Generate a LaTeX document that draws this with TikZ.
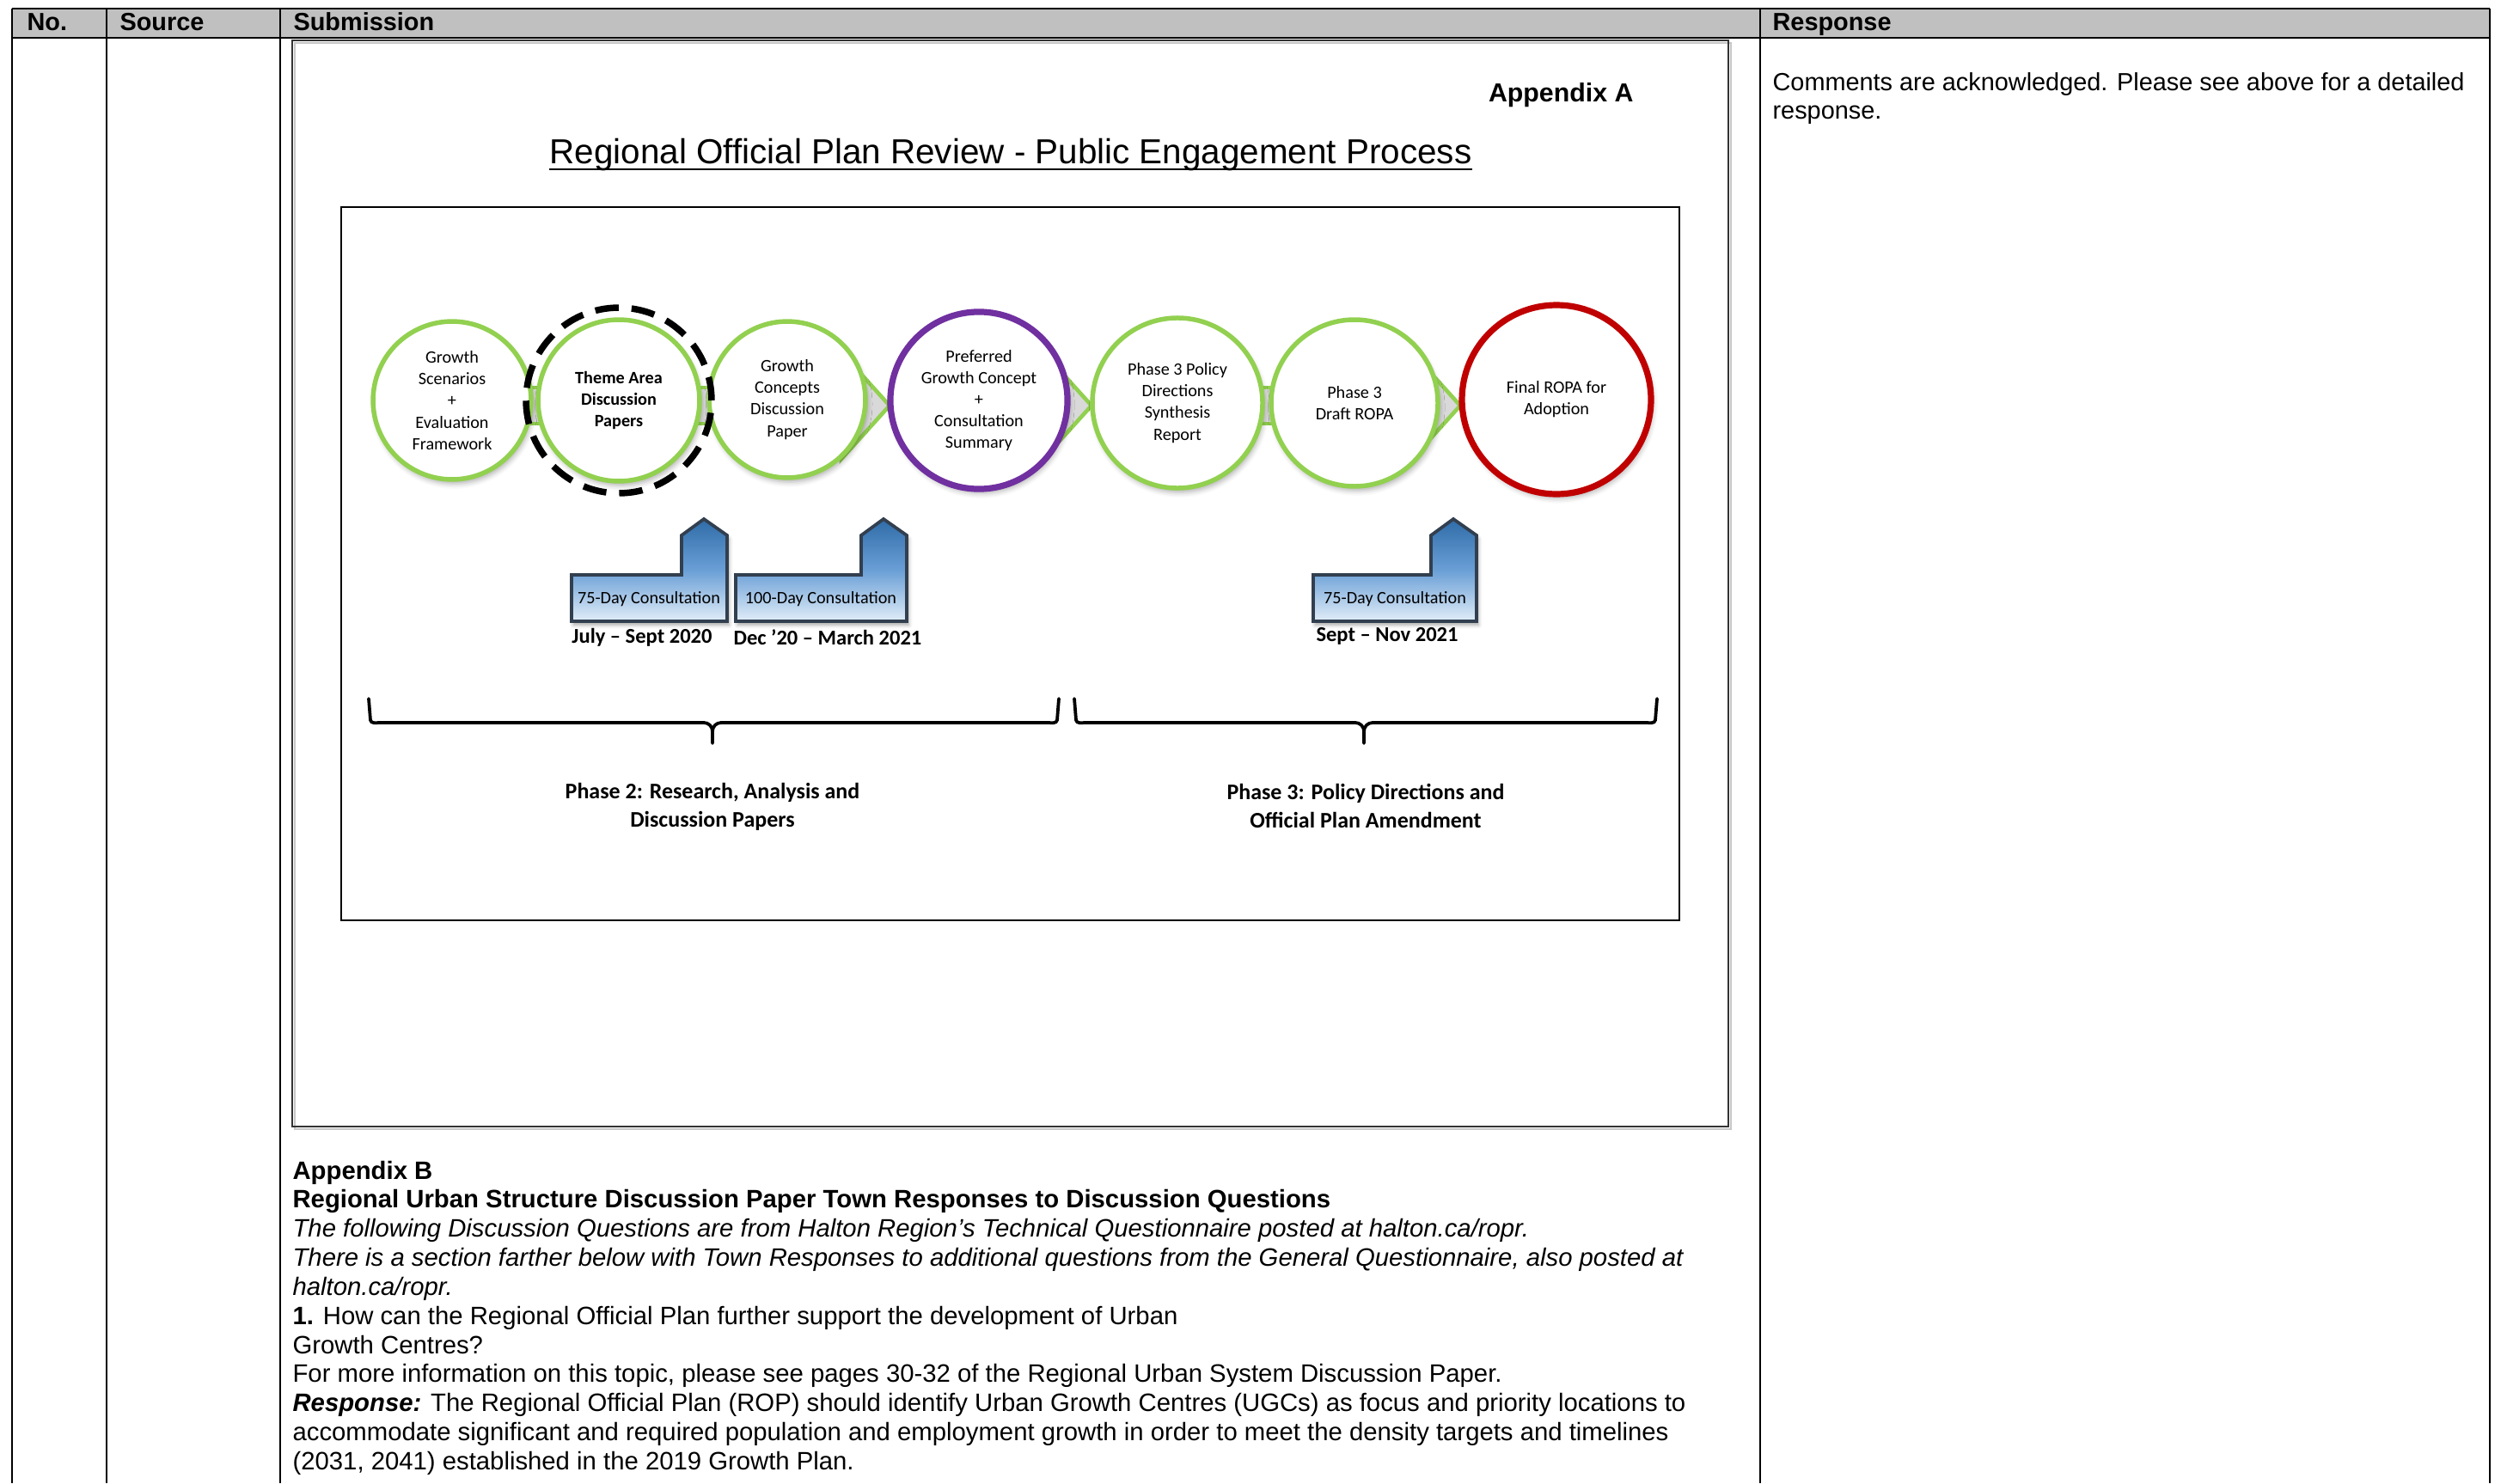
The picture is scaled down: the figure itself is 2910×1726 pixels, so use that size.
\documentclass[tikz,border=0pt]{standalone}
\usepackage{fontspec}
\setmainfont{Liberation Sans}
\newfontfamily\smartfont{Carlito}
\usetikzlibrary{calc,shadows.blur}

\definecolor{headgray}{HTML}{C0C0C0}
\definecolor{stagegreen}{HTML}{92D050}
\definecolor{stagepurple}{HTML}{7030A0}
\definecolor{stagered}{HTML}{C00000}
\definecolor{bandgray}{HTML}{D9D9D9}
\definecolor{consultdark}{HTML}{2F6CA8}
\definecolor{consultmid}{HTML}{6A9FD6}
\definecolor{consultlight}{HTML}{E1EDF8}
\definecolor{consultedge}{HTML}{323F4F}

\tikzset{
  rule/.style={line width=0.75pt},
  head/.style={anchor=base west, inner sep=0pt, font=\bfseries\fontsize{10}{12}\selectfont},
  body/.style={anchor=base west, inner sep=0pt, font=\fontsize{10.15}{12}\selectfont},
  stage/.style={circle, draw=stagegreen, line width=1.9pt, fill=white,
    inner sep=0pt, align=center, font=\smartfont\fontsize{7}{8.7}\selectfont,
    blur shadow={shadow xshift=0.8pt, shadow yshift=-1.8pt,
      shadow blur radius=2pt, shadow opacity=30}},
  ring/.style={circle, draw=black, line width=2.6pt, dash pattern=on 9.5pt off 5.2pt,
    inner sep=0pt, minimum size=74.8pt},
  band/.style={draw=stagegreen, line width=1.4pt, double=bandgray, double distance=13pt},
  chevron/.style={draw=stagegreen, line width=1.6pt, fill=bandgray, line join=miter},
  consult/.style={draw=consultedge, line width=1.3pt, line join=miter,
    top color=consultdark, bottom color=consultlight, middle color=consultmid,
    blur shadow={shadow xshift=0.8pt, shadow yshift=-1.5pt,
      shadow blur radius=1.5pt, shadow opacity=35}},
  consultlabel/.style={inner sep=0pt, font=\smartfont\fontsize{7}{8}\selectfont},
  datelabel/.style={inner sep=0pt, font=\smartfont\bfseries\fontsize{8.5}{10}\selectfont},
  phasebrace/.style={line width=1.3pt, line cap=round},
  phaselabel/.style={align=center, inner sep=0pt,
    font=\smartfont\bfseries\fontsize{9}{11.6}\selectfont},
}

\begin{document}
\begin{tikzpicture}[x=0.3464pt, y=-0.3464pt]
  \useasboundingbox (0,0) rectangle (2910,1726);

  % table frame and header row
  \fill[headgray] (14,10) rectangle (2897,44);
  \draw[rule] (14,10) -- (2897,10);
  \draw[rule] (14,44) -- (2897,44);
  \draw[rule] (14,10) -- (14,1726);
  \draw[rule] (124,10) -- (124,1726);
  \draw[rule] (326,10) -- (326,1726);
  \draw[rule] (2048,10) -- (2048,1726);
  \draw[rule] (2897,10) -- (2897,1726);
  \node[head] (hno) at (31,36) {No.};
  \node[head] (hsource) at (139,36) {Source};
  \node[head] (hsub) at (341,36) {Submission};
  \node[head] (hresp) at (2062,36) {Response};

  % response column
  \node[body, font=\fontsize{10}{12}\selectfont] (resp1) at (2062,106)
    {Comments are acknowledged. Please see above for a detailed};
  \node[body, font=\fontsize{10}{12}\selectfont] (resp2) at (2062,139) {response.};

  % appendix A page
  \draw[gray!45, line width=0.9pt] (343,50) rectangle (2014,1314);
  \draw[black!80, line width=0.6pt] (340,47) rectangle (2011,1311);
  \node[anchor=base east, inner sep=0pt, font=\bfseries\fontsize{10.5}{12}\selectfont]
    (appa) at (1901,118) {Appendix A};
  \node[anchor=base, inner sep=0pt, font=\fontsize{14}{16}\selectfont]
    (title) at (1176,190) {Regional Official Plan Review - Public Engagement Process};
  \draw[line width=0.7pt] ($(title.base west)+(0,7)$) -- ($(title.base east)+(0,7)$);
  \draw[line width=1pt] (397,241) rectangle (1954,1071);

  % stage centres and the arrow axis
  \coordinate (axis) at (0,472);
  \coordinate (p1) at (526,466);
  \coordinate (p2) at (720,466);
  \coordinate (p3) at (916,465);
  \coordinate (p4) at (1139,466);
  \coordinate (p5) at (1370,469);
  \coordinate (p6) at (1576,469);
  \coordinate (p7) at (1811,465);

  % bands and chevrons, drawn first so the stages cover them
  \draw[band] (p1 |- axis) -- (p2 |- axis);
  \draw[band] (p2 |- axis) -- (p3 |- axis);
  \draw[band] (p5 |- axis) -- (p6 |- axis);
  \draw[chevron] ($(p4 |- axis)+(-160,-62)$) -- ($(p4 |- axis)+(-104,0)$)
    -- ($(p4 |- axis)+(-160,62)$) -- cycle;
  \draw[chevron] ($(p5 |- axis)+(-156,-62)$) -- ($(p5 |- axis)+(-100,0)$)
    -- ($(p5 |- axis)+(-156,62)$) -- cycle;
  \draw[chevron] ($(p7 |- axis)+(-168,-62)$) -- ($(p7 |- axis)+(-112,0)$)
    -- ($(p7 |- axis)+(-168,62)$) -- cycle;

  % stages
  \node[stage, minimum size=63.7pt] (s1) at (p1)
    {Growth\\Scenarios\\+\\Evaluation\\Framework};
  \node[stage, minimum size=65.1pt, font=\smartfont\bfseries\fontsize{7}{8.7}\selectfont] (s2) at (p2)
    {Theme Area\\Discussion\\Papers};
  \node[stage, minimum size=63pt] (s3) at (p3)
    {Growth\\Concepts\\Discussion\\Paper};
  \node[stage, minimum size=71.4pt, draw=stagepurple, line width=2.5pt] (s4) at (p4)
    {Preferred\\Growth Concept\\+\\Consultation\\Summary};
  \node[stage, minimum size=68.6pt] (s5) at (p5)
    {Phase 3 Policy\\Directions\\Synthesis\\Report};
  \node[stage, minimum size=67.2pt] (s6) at (p6)
    {Phase 3\\Draft ROPA};
  \node[stage, minimum size=76.2pt, draw=stagered, line width=2.5pt] (s7) at (p7)
    {Final ROPA for\\Adoption};
  \node[ring] (ring2) at (s2) {};

  % consultation windows
  \path[consult] (665,669) -- (793,669) -- (793,623) -- (819,604)
    -- (846,623) -- (846,723) -- (665,723) -- cycle;
  \path[consult] (856,669) -- (1002,669) -- (1002,623) -- (1028,604)
    -- (1055,623) -- (1055,723) -- (856,723) -- cycle;
  \path[consult] (1528,669) -- (1665,669) -- (1665,623) -- (1691,604)
    -- (1718,623) -- (1718,723) -- (1528,723) -- cycle;
  \node[consultlabel] (c1) at (755,697) {75-Day Consultation};
  \node[consultlabel] (c2) at (955,697) {100-Day Consultation};
  \node[consultlabel] (c3) at (1623,697) {75-Day Consultation};
  \node[datelabel] (d1) at (747,742) {July – Sept 2020};
  \node[datelabel] (d2) at (963,742) {Dec ’20 – March 2021};
  \node[datelabel] (d3) at (1614,740) {Sept – Nov 2021};

  % phase braces
  \draw[phasebrace] (429,813) -- (431,838) to[out=-80,in=180] (442,841) -- (819,841)
    to[out=0,in=90] (829,851) -- (829,865);
  \draw[phasebrace] (829,851) to[out=90,in=180] (839,841) -- (1219,841)
    to[out=0,in=-100] (1230,838) -- (1232,813);
  \draw[phasebrace] (1250,813) -- (1252,838) to[out=-80,in=180] (1263,841) -- (1577,841)
    to[out=0,in=90] (1587,851) -- (1587,865);
  \draw[phasebrace] (1587,851) to[out=90,in=180] (1597,841) -- (1915,841)
    to[out=0,in=-100] (1926,838) -- (1928,813);
  \node[phaselabel] (ph2) at (829,939) {Phase 2: Research, Analysis and\\Discussion Papers};
  \node[phaselabel] (ph3) at (1589,938) {Phase 3: Policy Directions and\\Official Plan Amendment};

  % appendix B text
  \node[body, font=\bfseries\fontsize{10.15}{12}\selectfont] (b1) at (340,1372) {Appendix B};
  \node[body, font=\bfseries\fontsize{10.15}{12}\selectfont] (b2) at (340,1405)
    {Regional Urban Structure Discussion Paper Town Responses to Discussion Questions};
  \node[body, font=\itshape\fontsize{10.15}{12}\selectfont] (b3) at (340,1439)
    {The following Discussion Questions are from Halton Region’s Technical Questionnaire posted at halton.ca/ropr.};
  \node[body, font=\itshape\fontsize{10.15}{12}\selectfont] (b4) at (340,1473)
    {There is a section farther below with Town Responses to additional questions from the General Questionnaire, also posted at};
  \node[body, font=\itshape\fontsize{10.15}{12}\selectfont] (b5) at (340,1507) {halton.ca/ropr.};
  \node[body] (b6) at (340,1541)
    {\textbf{1.} How can the Regional Official Plan further support the development of Urban};
  \node[body] (b7) at (340,1575) {Growth Centres?};
  \node[body] (b8) at (340,1608)
    {For more information on this topic, please see pages 30-32 of the Regional Urban System Discussion Paper.};
  \node[body] (b9) at (340,1642)
    {\textbf{\textit{Response:}} The Regional Official Plan (ROP) should identify Urban Growth Centres (UGCs) as focus and priority locations to};
  \node[body] (b10) at (340,1676)
    {accommodate significant and required population and employment growth in order to meet the density targets and timelines};
  \node[body] (b11) at (340,1710) {(2031, 2041) established in the 2019 Growth Plan.};
\end{tikzpicture}
\end{document}
